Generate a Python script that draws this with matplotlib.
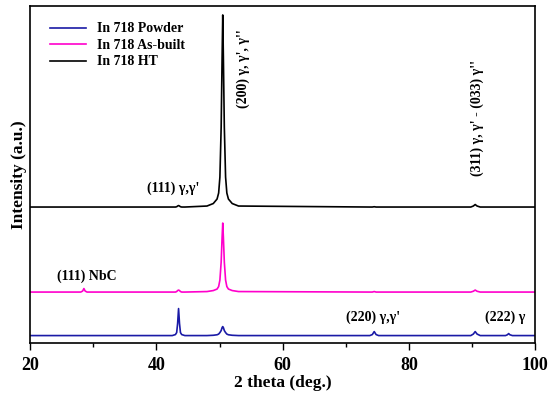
import matplotlib.pyplot as plt
import numpy as np

plt.rcParams['font.family'] = ['Liberation Serif', 'DejaVu Serif']
plt.rcParams['font.weight'] = 'bold'

# Diffraction patterns (2 theta, intensity a.u.)
two_theta = [20.0, 28.0, 28.3, 28.5, 28.7, 29.0, 42.5, 43.0, 43.2, 43.35, 43.5,
             43.65, 43.8, 44.0, 44.5, 48.0, 49.0, 49.6, 49.85, 50.05, 50.25,
             50.4, 50.5, 50.6, 50.75, 50.95, 51.15, 51.4, 52.0, 53.0, 73.8,
             74.2, 74.5, 74.8, 75.2, 89.8, 90.2, 90.5, 90.8, 91.3, 95.3,
             95.6, 95.8, 96.0, 96.4, 100.0]

powder = [0, 0, 0, 0, 0, 0, 0, 1.0, 3.0, 12.0, 27.0, 12.0, 3.0, 1.0, 0,
          0, 0.3, 0.8, 1.5, 3.0, 5.0, 8.0, 9.0, 8.0, 5.0, 3.0, 1.5, 0.8,
          0.3, 0, 0, 1.0, 4.0, 1.0, 0, 0, 1.5, 4.0, 1.5, 0, 0, 0.8, 2.0,
          0.8, 0, 0]

as_built = [0, 0, 1.0, 3.5, 1.0, 0, 0, 0, 0.5, 1.5, 2.0, 1.5, 0.5, 0, 0,
            0.5, 1.5, 3.0, 5.5, 12.0, 30.0, 55.0, 69.0, 55.0, 30.0, 12.0,
            5.5, 3.0, 1.5, 0.5, 0, 0, 0.5, 0, 0, 0, 0.8, 2.0, 0.8, 0, 0, 0,
            0, 0, 0, 0]

heat_treated = [0, 0, 0, 0, 0, 0, 0, 0, 0.3, 1.0, 1.5, 1.0, 0.3, 0, 0,
                1.0, 3.5, 8.0, 14.0, 30.0, 80.0, 150.0, 192.0, 150.0, 80.0,
                30.0, 14.0, 8.0, 3.5, 1.0, 0, 0, 0.3, 0, 0, 0, 1.0, 2.5, 1.0,
                0, 0, 0, 0, 0, 0, 0]

labels = ['In 718 Powder', 'In 718 As-built', 'In 718 HT']
colors = ['#1a1aa6', '#ff00cc', '#000000']
offsets = [7.5, 51, 136]

fig, ax = plt.subplots(figsize=(5.5, 3.98), dpi=100)
fig.subplots_adjust(left=0.055, right=0.973, top=0.985, bottom=0.138)

for series, lab, col, off in zip([powder, as_built, heat_treated], labels, colors, offsets):
    ax.plot(two_theta, np.array(series) + off, color=col, lw=1.2, label=lab)

ax.set_xlim(20, 100)
ax.set_ylim(0, 337)
ax.set_xticks([20, 40, 60, 80, 100])
ax.set_xticks([30, 50, 70, 90], minor=True)
ax.tick_params(axis='x', which='major', length=5, width=1, labelsize=13, pad=5)
ax.tick_params(axis='x', which='minor', length=3, width=1)
ax.set_yticks([])
for s in ax.spines.values():
    s.set_linewidth(1.2)

ax.set_xlabel('2 theta (deg.)', fontsize=12.5, fontweight='bold', labelpad=1)
ax.set_ylabel('Intensity (a.u.)', fontsize=12.5, fontweight='bold', labelpad=2)

kw = dict(fontsize=10, fontweight='bold', ha='center', va='center')
ax.text(42.7, 155, "(111) γ,γ'", **kw)
ax.text(53.7, 274, "(200) γ, γ', γ''", rotation=90, **kw)
ax.text(90.8, 225, "(311) γ, γ' - (033) γ''", rotation=90, **kw)
ax.text(28.9, 67, "(111) NbC", **kw)
ax.text(74.3, 26, "(220) γ,γ'", **kw)
ax.text(95.2, 26, "(222) γ", **kw)

ax.legend(loc='upper left', frameon=False, fontsize=10, handlelength=2.6,
          handletextpad=0.8, borderaxespad=0.3, labelspacing=0.25,
          bbox_to_anchor=(0.02, 0.98))

plt.savefig('out.png', dpi=100)
